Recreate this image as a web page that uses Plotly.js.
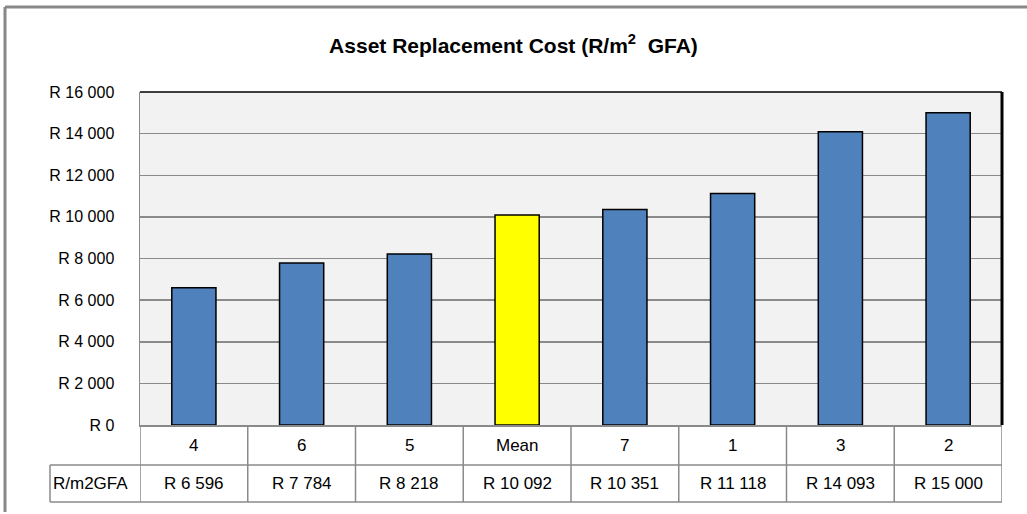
<!DOCTYPE html>
<html>
<head>
<meta charset="utf-8">
<script src="https://cdn.plot.ly/plotly-3.0.1.min.js"></script>
<style>html,body{margin:0;padding:0;background:#fff;}#chart{width:1027px;height:514px;}</style>
</head>
<body>
<div id="chart"></div>
<script>
const categories = ["4", "6", "5", "Mean", "7", "1", "3", "2"];
const values = [6596, 7784, 8218, 10092, 10351, 11118, 14093, 15000];
const valueLabels = ["R 6 596", "R 7 784", "R 8 218", "R 10 092", "R 10 351", "R 11 118", "R 14 093", "R 15 000"];
const rowHeader = "R/m2GFA";
const yTickVals = [0, 2000, 4000, 6000, 8000, 10000, 12000, 14000, 16000];
const yTickLabels = ["R 0", "R 2 000", "R 4 000", "R 6 000", "R 8 000", "R 10 000", "R 12 000", "R 14 000", "R 16 000"];

const barColors = categories.map(c => c === "Mean" ? "#FFFF00" : "#4F81BD");
const xIdx = categories.map((c, i) => i);

const FONT = "Liberation Sans, Arial, sans-serif";
const PLOT_H = 333, PLOT_W = 862;
const row1Bottom = -40 / PLOT_H;
const row2Bottom = -77 / PLOT_H;
const headerLeft = -90 / PLOT_W;
const gridGray = "#8a8a8a";

const shapes = [];
// table horizontal lines
shapes.push({type:"line", xref:"paper", yref:"paper", x0:0, x1:1, y0:row1Bottom, y1:row1Bottom, line:{color:gridGray, width:1.5}});
shapes.push({type:"line", xref:"paper", yref:"paper", x0:headerLeft, x1:1, y0:row2Bottom, y1:row2Bottom, line:{color:gridGray, width:1.5}});
shapes.push({type:"line", xref:"paper", yref:"paper", x0:headerLeft, x1:0, y0:row1Bottom, y1:row1Bottom, line:{color:gridGray, width:1.5}});
shapes.push({type:"line", xref:"paper", yref:"paper", x0:headerLeft, x1:headerLeft, y0:row1Bottom, y1:row2Bottom, line:{color:gridGray, width:1.5}});
// table vertical lines
for (let i = 0; i <= categories.length; i++) {
  shapes.push({type:"line", xref:"x", yref:"paper", x0:i - 0.5, x1:i - 0.5, y0:0, y1:row2Bottom, line:{color:gridGray, width:1.5}});
}
// plot frame: top black, right thick black
shapes.push({type:"line", xref:"paper", yref:"paper", x0:0, x1:1, y0:1, y1:1, line:{color:"#000", width:1.5}});
shapes.push({type:"line", xref:"paper", yref:"paper", x0:1, x1:1, y0:0, y1:1, line:{color:"#000", width:3}});
// outer chart frame (left and top visible)
shapes.push({type:"line", xref:"paper", yref:"paper", x0:-135/PLOT_W, x1:-135/PLOT_W, y0:(425-7)/PLOT_H, y1:-87/PLOT_H, line:{color:"#888", width:3}});
shapes.push({type:"line", xref:"paper", yref:"paper", x0:-135/PLOT_W, x1:1.05, y0:(425-7)/PLOT_H, y1:(425-7)/PLOT_H, line:{color:"#888", width:3}});

const annotations = [];
categories.forEach((c, i) => {
  annotations.push({x:i, xref:"x", y:row1Bottom/2, yref:"paper", text:c, showarrow:false, font:{family:FONT, size:17, color:"#000"}, xanchor:"center", yanchor:"middle"});
  annotations.push({x:i, xref:"x", y:(row1Bottom+row2Bottom)/2, yref:"paper", text:valueLabels[i], showarrow:false, font:{family:FONT, size:17, color:"#000"}, xanchor:"center", yanchor:"middle"});
});
annotations.push({x:headerLeft + 1/PLOT_W, xref:"paper", y:(row1Bottom+row2Bottom)/2, yref:"paper", text:rowHeader, showarrow:false, font:{family:FONT, size:17, color:"#000"}, xanchor:"left", yanchor:"middle"});

const trace = {
  type: "bar",
  x: xIdx,
  y: values,
  width: 0.41,
  marker: {color: barColors, line: {color: "#000", width: 1.5}},
  hoverinfo: "none"
};

const layout = {
  width: 1027, height: 514,
  margin: {l:140, r:25, t:92, b:89},
  paper_bgcolor: "#ffffff",
  plot_bgcolor: "#F2F2F2",
  showlegend: false,
  title: {text: "<b>Asset Replacement Cost (R/m<sup>2</sup>  GFA)</b>", font:{family:FONT, size:21, color:"#000"}, x:0.5, xanchor:"center", y:0.912, yanchor:"middle"},
  xaxis: {range:[-0.5, 7.5], showticklabels:false, showgrid:false, zeroline:false, showline:true, linecolor:gridGray, linewidth:2, fixedrange:true},
  yaxis: {range:[0, 16000], tickvals:yTickVals, ticktext:yTickLabels, showgrid:true, gridcolor:gridGray, gridwidth:1.5, zeroline:false, showline:true, linecolor:gridGray, linewidth:1.5, tickfont:{family:FONT, size:16, color:"#000"}, ticks:"", ticklabelstandoff:21, fixedrange:true},
  shapes: shapes,
  annotations: annotations
};

Plotly.newPlot("chart", [trace], layout, {displayModeBar:false, staticPlot:true});
</script>
</body>
</html>
